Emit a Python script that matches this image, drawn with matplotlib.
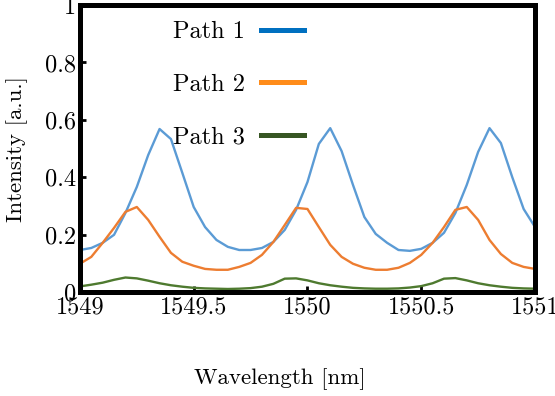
import matplotlib
matplotlib.use("Agg")
import matplotlib.pyplot as plt
import numpy as np

plt.rcParams['font.family'] = ['cmr10', 'DejaVu Serif']
plt.rcParams['axes.formatter.use_mathtext'] = True

# wavelength grid, 0.05 nm steps
wavelength = np.arange(1549.0, 1551.0001, 0.05)

path1 = [0.146, 0.153, 0.171, 0.199, 0.275, 0.366, 0.477, 0.568, 0.533, 0.415,
         0.296, 0.226, 0.181, 0.157, 0.146, 0.146, 0.153, 0.174, 0.216, 0.286,
         0.383, 0.516, 0.571, 0.491, 0.373, 0.261, 0.202, 0.171, 0.146, 0.143,
         0.150, 0.171, 0.206, 0.275, 0.373, 0.488, 0.571, 0.519, 0.400, 0.289,
         0.226]
path2 = [0.098, 0.122, 0.171, 0.223, 0.279, 0.296, 0.251, 0.192, 0.136, 0.105,
         0.091, 0.080, 0.077, 0.077, 0.087, 0.101, 0.129, 0.174, 0.233, 0.293,
         0.289, 0.226, 0.164, 0.122, 0.098, 0.084, 0.077, 0.077, 0.084, 0.101,
         0.129, 0.171, 0.226, 0.286, 0.296, 0.251, 0.181, 0.132, 0.101, 0.087,
         0.080]
path3 = [0.019, 0.025, 0.032, 0.042, 0.050, 0.047, 0.039, 0.030, 0.023, 0.018,
         0.014, 0.012, 0.011, 0.010, 0.011, 0.013, 0.018, 0.028, 0.046, 0.047,
         0.040, 0.030, 0.023, 0.018, 0.014, 0.012, 0.011, 0.011, 0.012, 0.015,
         0.020, 0.030, 0.046, 0.048, 0.040, 0.030, 0.023, 0.018, 0.014, 0.012,
         0.011]

labels = ['Path 1', 'Path 2', 'Path 3']
line_colors = ['#5B9BD5', '#ED7D31', '#4E7A2F']
legend_colors = ['#0070C0', '#FF8C1A', '#375623']

fig = plt.figure(figsize=(5.55, 3.96), dpi=100)
ax = fig.add_axes([0.144, 0.263, 0.820, 0.724])

for y, c in zip([path1, path2, path3], line_colors):
    ax.plot(wavelength, y, color=c, lw=1.7)

ax.set_xlim(1549, 1551)
ax.set_ylim(0, 1)
ax.set_xticks([1549, 1549.5, 1550, 1550.5, 1551])
ax.set_xticklabels(['1549', '1549.5', '1550', '1550.5', '1551'])
ax.set_yticks([0, 0.2, 0.4, 0.6, 0.8, 1])
ax.set_yticklabels(['0', '0.2', '0.4', '0.6', '0.8', '1'])
ax.tick_params(direction='in', length=4, width=2, labelsize=17.5, pad=3)
for s in ax.spines.values():
    s.set_linewidth(3.6)

ax.set_xlabel('Wavelength [nm]', fontsize=16.5)
ax.xaxis.set_label_coords(0.44, -0.265)
ax.set_ylabel('Intensity [a.u.]', fontsize=16.5)
ax.yaxis.set_label_coords(-0.114, 0.5)

handles = [plt.Line2D([], [], color=c, lw=3.6) for c in legend_colors]
ax.legend(handles, labels, loc='upper left', bbox_to_anchor=(0.205, 0.945),
          frameon=False, markerfirst=False, fontsize=17.5, handlelength=1.75,
          handletextpad=0.65, labelspacing=1.25, borderpad=0, borderaxespad=0)

fig.savefig('out.png', dpi=100)
